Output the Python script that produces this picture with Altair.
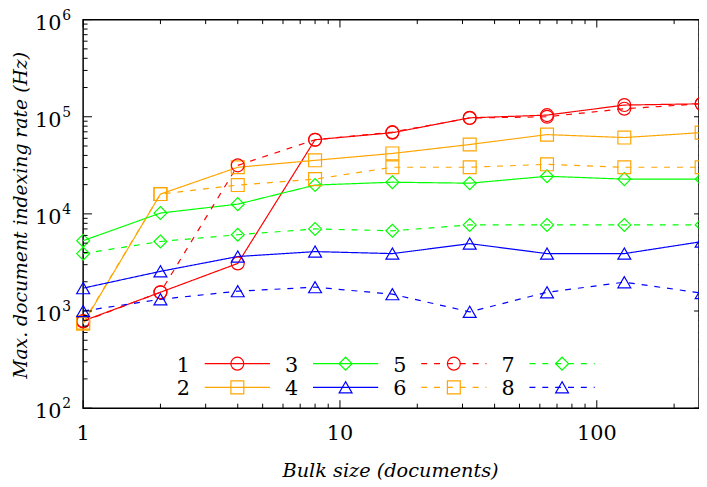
import altair as alt
import pandas as pd

# ---------------- data ----------------
bulk_sizes = [1, 2, 4, 8, 16, 32, 64, 128, 256]
series_names = ["1", "2", "3", "4", "5", "6", "7", "8"]

rate_1 = [790, 1560, 3090, 58000, 68500, 97500, 104000, 132000, 136000]
rate_2 = [740, 16000, 30200, 35600, 41900, 51800, 65500, 61100, 68700]
rate_3 = [5300, 10200, 12600, 19800, 21200, 20700, 24400, 22800, 22800]
rate_4 = [1720, 2560, 3640, 4090, 3900, 4940, 3900, 3900, 5180]
rate_5 = [780, 1560, 31600, 58000, 69500, 97000, 100000, 121000, 136000]
rate_6 = [760, 16000, 19800, 22800, 30200, 30200, 32400, 30200, 30200]
rate_7 = [3900, 5200, 6100, 7000, 6700, 7700, 7700, 7700, 7700]
rate_8 = [1000, 1320, 1600, 1760, 1490, 980, 1560, 1980, 1530]
all_rates = [rate_1, rate_2, rate_3, rate_4, rate_5, rate_6, rate_7, rate_8]

series_colors = ["#ff0000", "#ffa500", "#00ff00", "#0000ff",
                 "#ff0000", "#ffa500", "#00ff00", "#0000ff"]
series_shapes = ["circle", "square", "diamond", "triangle-up",
                 "circle", "square", "diamond", "triangle-up"]
series_dashes = [[1, 0]] * 4 + [[6, 7]] * 4

y_major = [1e2, 1e3, 1e4, 1e5, 1e6]
y_exponents = ["2", "3", "4", "5", "6"]
y_minor = [m * 10 ** k for k in range(2, 6) for m in range(2, 10)]
x_major = [1, 10, 100]
x_major_labels = ["1", "10", "100"]
x_minor = [2, 3, 4, 5, 6, 7, 8, 9, 20, 30, 40, 50, 60, 70, 80, 90, 200]

x_title = "Bulk size (documents)"
y_title = "Max. document indexing rate (Hz)"

# ---------------- tables ----------------
rows = []
for name, rates in zip(series_names, all_rates):
    for b, r in zip(bulk_sizes, rates):
        rows.append({"series": name, "bulk": b, "rate": r})
df = pd.DataFrame(rows)

legend_df = pd.DataFrame({"series": series_names, "idx": list(range(8))})
ylab_df = pd.DataFrame({"v": y_major, "exp": y_exponents})
xlab_df = pd.DataFrame({"v": x_major, "lab": x_major_labels})
ymaj_df = pd.DataFrame({"v": y_major})
ymin_df = pd.DataFrame({"v": y_minor})
xmaj_df = pd.DataFrame({"v": x_major})
xmin_df = pd.DataFrame({"v": x_minor})

FONT = "DejaVu Serif"
W, H = 623, 393

xscale = alt.Scale(type="log", domain=[1, 250], nice=False)
yscale = alt.Scale(type="log", domain=[100, 1e6], nice=False)
color_enc = alt.Color("series:N", scale=alt.Scale(domain=series_names, range=series_colors), legend=None)
dash_enc = alt.StrokeDash("series:N", scale=alt.Scale(domain=series_names, range=series_dashes), legend=None)
shape_enc = alt.Shape("series:N", scale=alt.Scale(domain=series_names, range=series_shapes), legend=None)

lines = alt.Chart(df).mark_line(strokeWidth=1.2, clip=False).encode(
    x=alt.X("bulk:Q", scale=xscale, axis=None),
    y=alt.Y("rate:Q", scale=yscale, axis=None),
    color=color_enc, strokeDash=dash_enc, order=alt.Order("bulk:Q"),
)
points = alt.Chart(df).mark_point(size=170, filled=False, strokeWidth=1.2, opacity=1, clip=False).encode(
    x=alt.X("bulk:Q", scale=xscale, axis=None),
    y=alt.Y("rate:Q", scale=yscale, axis=None),
    color=color_enc, shape=shape_enc,
)

# inward ticks (gnuplot style, mirrored)
def yticks(data, x0, x1):
    return alt.Chart(data).mark_rule(color="black", strokeWidth=1).encode(
        y=alt.Y("v:Q", scale=yscale, axis=None), x=alt.value(x0), x2=alt.value(x1))

def xticks(data, y0, y1):
    return alt.Chart(data).mark_rule(color="black", strokeWidth=1).encode(
        x=alt.X("v:Q", scale=xscale, axis=None), y=alt.value(y0), y2=alt.value(y1))

tick_layers = [
    yticks(ymaj_df, 0, 9), yticks(ymin_df, 0, 4.5),
    yticks(ymaj_df, 618, 627), yticks(ymin_df, 622.5, 627),
    xticks(xmaj_df, H, H - 8), xticks(xmin_df, H, H - 4.5),
    xticks(xmaj_df, 0, 8), xticks(xmin_df, 0, 4.5),
]

# y labels 10^k
ylab_base = alt.Chart(ylab_df).mark_text(font=FONT, fontSize=21, align="right",
                                          baseline="alphabetic", dy=10, color="black").encode(
    y=alt.Y("v:Q", scale=yscale, axis=None), x=alt.value(-22), text=alt.value("10"))
ylab_exp = alt.Chart(ylab_df).mark_text(font=FONT, fontSize=14, align="left",
                                         baseline="alphabetic", dy=0, color="black").encode(
    y=alt.Y("v:Q", scale=yscale, axis=None), x=alt.value(-21), text="exp:N")

# x labels
xlab = alt.Chart(xlab_df).mark_text(font=FONT, fontSize=21, align="center",
                                     baseline="alphabetic", color="black").encode(
    x=alt.X("v:Q", scale=xscale, axis=None), y=alt.value(H + 32), text="lab:N")

# axis titles
xtitle = alt.Chart(pd.DataFrame({"t": [x_title]})).mark_text(
    font=FONT, fontSize=19.5, fontStyle="italic", align="center", baseline="alphabetic", color="black"
).encode(x=alt.value(311), y=alt.value(H + 70), text="t:N")
ytitle = alt.Chart(pd.DataFrame({"t": [y_title]})).mark_text(
    font=FONT, fontSize=19, fontStyle="italic", align="center", baseline="middle", angle=270, color="black"
).encode(x=alt.value(-63), y=alt.value(198), text="t:N")

# key (2 rows x 4 columns, inside the plot)
leg = alt.Chart(legend_df).transform_calculate(
    col="floor(datum.idx / 2)", row="datum.idx % 2"
).transform_calculate(
    lx1="123 + 109.5 * datum.col", lx2="189 + 109.5 * datum.col",
    lxm="156 + 109.5 * datum.col", ltx="108 + 109.5 * datum.col",
    ly="348 + 24 * datum.row", lty="356 + 24 * datum.row",
)
leg_lines = leg.mark_rule(strokeWidth=1.2).encode(
    x=alt.X("lx1:Q", scale=None, axis=None), x2="lx2:Q",
    y=alt.Y("ly:Q", scale=None, axis=None), color=color_enc, strokeDash=dash_enc)
leg_pts = leg.mark_point(size=170, filled=False, strokeWidth=1.2, opacity=1).encode(
    x=alt.X("lxm:Q", scale=None, axis=None), y=alt.Y("ly:Q", scale=None, axis=None),
    color=color_enc, shape=shape_enc)
leg_txt = leg.mark_text(font=FONT, fontSize=21, align="right", baseline="alphabetic", color="black").encode(
    x=alt.X("ltx:Q", scale=None, axis=None), y=alt.Y("lty:Q", scale=None, axis=None), text="series:N")

chart = alt.layer(
    lines, points, *tick_layers, ylab_base, ylab_exp, xlab, xtitle, ytitle,
    leg_lines, leg_pts, leg_txt
).properties(
    width=W, height=H,
    padding={"left": 76, "top": 9, "right": 0, "bottom": 77},
    autosize=alt.AutoSizeParams(type="none"),
    background="white",
).configure_view(stroke="black", strokeWidth=1.5)

chart.save("out.html", embed_options={"renderer": "svg", "actions": False})
